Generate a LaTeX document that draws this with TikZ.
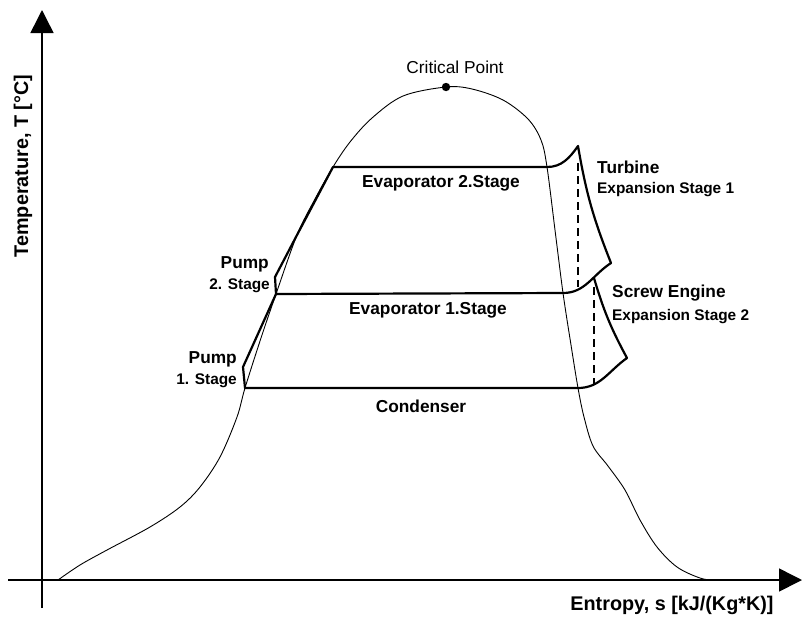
\documentclass[tikz,border=0pt]{standalone}
\usepackage{fontspec}
\setmainfont{Liberation Sans}
\usetikzlibrary{arrows.meta}
\tikzset{
  axisline/.style={line width=1.5pt, -{Triangle[length=23pt,width=23pt]}},
  domeline/.style={line width=0.9pt},
  cycleline/.style={line width=2.2pt, line join=round, line cap=round},
  dashline/.style={line width=2pt, dash pattern=on 8pt off 5pt},
  lbl/.style={inner sep=0pt, font=\fontsize{17.3}{20}\selectfont\bfseries},
  sublbl/.style={inner sep=0pt, font=\fontsize{15.4}{18}\selectfont\bfseries},
  axlbl/.style={inner sep=0pt, font=\fontsize{19.8}{23}\selectfont\bfseries},
}
\begin{document}
\begin{tikzpicture}[x=1pt,y=-1pt]
\useasboundingbox (0,0) rectangle (802,619);
% axes
\coordinate (yb) at (42,608);
\coordinate (yt) at (42,10);
\coordinate (xl) at (8,580);
\coordinate (xr) at (802,580);
\draw[axisline] (yb) -- (yt);
\draw[axisline] (xl) -- (xr);
% dome
\draw[domeline] plot[smooth, tension=0.55] coordinates {
 (58,580) (80,565) (107,550) (150,527) (180,507) (200,487) (220,457) (237,417)
 (245,388) (261,338) (276,294) (297,235) (315,199) (333,167) (350,142) (372,118)
 (403,96) (446,87) (472,89) (503,100) (528,119) (541,140) (547,167) (555,230)
 (563,293) (571,345) (578,388) (584,417) (593,446) (608,466) (625,490) (640,520)
 (657,547) (677,567) (700,578) (715,580) (745,580)};
% critical point
\coordinate (cp) at (446,87);
\fill (cp) circle (4.2pt);
\node[inner sep=0pt, font=\fontsize{17.3}{20}\selectfont] (cptext) at (455,67) {Critical Point};
% cycle coordinates
\coordinate (c1) at (245,388);
\coordinate (p1a) at (243,367);
\coordinate (e1l) at (276,294);
\coordinate (p2a) at (275,277);
\coordinate (p2b) at (297,235);
\coordinate (e2l) at (333,167);
\coordinate (e2r) at (547,167);
\coordinate (t1) at (578,146);
\coordinate (t2) at (611,263);
\coordinate (e1r) at (563,293);
\coordinate (s1) at (594,278);
\coordinate (s2) at (627,358);
\coordinate (c2) at (578,388);
% cycle
\draw[cycleline] (c1) -- (p1a) -- (e1l) -- (p2a) -- (p2b) -- (e2l) -- (e2r)
  to[out=0,in=235] (t1) to[bend right=6] (t2);
\draw[cycleline] (t2) to[out=213,in=0] (e1r) -- (e1l);
\draw[cycleline] (s1) to[bend right=6] (s2) to[out=215,in=0] (c2) -- (c1);
% dashed
\coordinate (d1t) at (578,163);
\coordinate (d1b) at (578,287);
\coordinate (d2t) at (594,287);
\coordinate (d2b) at (594,384);
\draw[dashline] (d1t) -- (d1b);
\draw[dashline] (d2t) -- (d2b);
% labels
\node[lbl] (ev2) at (441,183) {Evaporator 2.Stage};
\node[lbl] (ev1) at (428,310) {Evaporator 1.Stage};
\node[lbl] (cond) at (421,406) {Condenser};
\node[lbl, anchor=east] (pump2) at (269,264) {Pump};
\node[sublbl, anchor=east] (pump2s) at (270,286) {2. Stage};
\node[lbl, anchor=east] (pump1) at (237,359) {Pump};
\node[sublbl, anchor=east] (pump1s) at (237,381) {1. Stage};
\node[lbl, anchor=west] (turb) at (597,167) {Turbine};
\node[sublbl, anchor=west] (turbs) at (597,190) {Expansion Stage 1};
\node[lbl, anchor=west] (screw) at (612,293) {Screw Engine};
\node[sublbl, anchor=west] (screws) at (612,317) {Expansion Stage 2};
\node[axlbl, rotate=90] (tlab) at (23,166) {Temperature, T [°C]};
\node[axlbl] (slab) at (672,605) {Entropy, s [kJ/(Kg*K)]};
\end{tikzpicture}
\end{document}
